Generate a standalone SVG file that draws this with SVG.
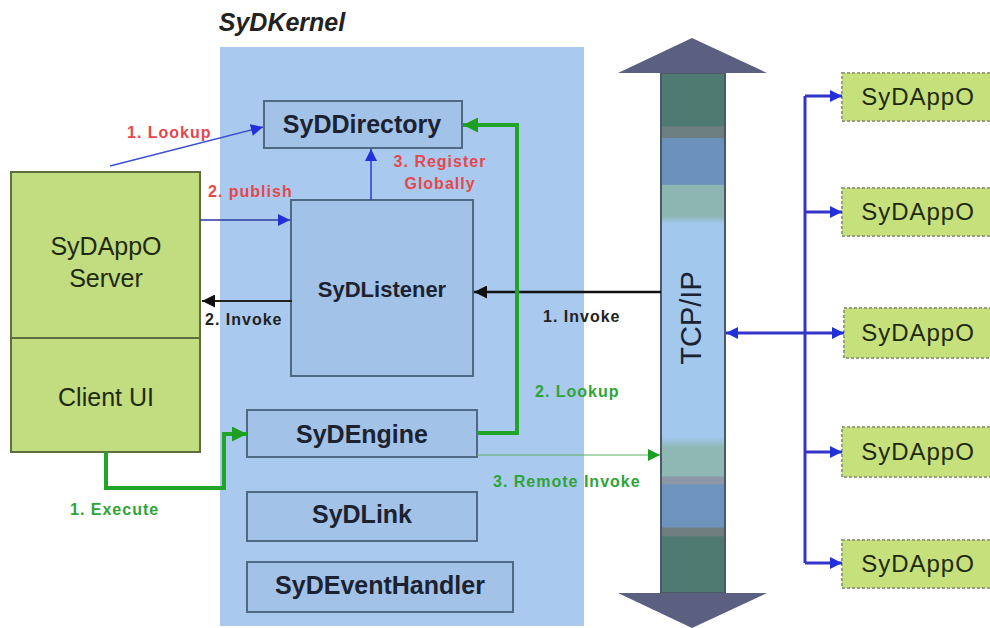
<svg xmlns="http://www.w3.org/2000/svg" width="990" height="628" viewBox="0 0 990 628">
  <defs>
    <style>
      .mod { fill: #a2c2e8; stroke: #4e6886; stroke-width: 2; }
      .modtxt { font-family: "Liberation Sans", Arial, sans-serif; font-weight: bold; fill: #1c2230; text-anchor: middle; }
      .app { fill: #c2dc80; stroke: #5e6e3e; stroke-width: 2; }
      .apptxt { font-family: "Liberation Sans", Arial, sans-serif; font-size: 25px; fill: #1e2a10; text-anchor: middle; }
      .peer { fill: #c6e07c; stroke: #9aa07e; stroke-width: 2; stroke-dasharray: 3 2; }
      .peertxt { font-family: "Liberation Sans", Arial, sans-serif; font-size: 24px; fill: #1e2a10; text-anchor: middle; letter-spacing: 1px; }
      .lbl { font-family: "Liberation Sans", Arial, sans-serif; font-size: 16px; font-weight: bold; letter-spacing: 1px; }
      .red { fill: #e4484c; }
      .grn { fill: #2ea436; }
      .blk { fill: #222; }
      .wire { fill: none; }
    </style>
    <marker id="ahBlue" viewBox="0 0 10 10" refX="10" refY="5" markerUnits="userSpaceOnUse" markerWidth="14" markerHeight="12" orient="auto-start-reverse">
      <path d="M0,0 L10,5 L0,10 Z" fill="#2230dc"/>
    </marker>
    <marker id="ahBlack" viewBox="0 0 10 10" refX="10" refY="5" markerUnits="userSpaceOnUse" markerWidth="16" markerHeight="13" orient="auto">
      <path d="M0,0 L10,5 L0,10 Z" fill="#111"/>
    </marker>
    <marker id="ahGreen" viewBox="0 0 10 10" refX="10" refY="5" markerUnits="userSpaceOnUse" markerWidth="18" markerHeight="15" orient="auto">
      <path d="M0,0 L10,5 L0,10 Z" fill="#1c9e22"/>
    </marker>
    <marker id="ahGreenSm" viewBox="0 0 10 10" refX="10" refY="5" markerUnits="userSpaceOnUse" markerWidth="16" markerHeight="12" orient="auto">
      <path d="M0,0 L10,5 L0,10 Z" fill="#1c9e22"/>
    </marker>
    <linearGradient id="shaft" gradientUnits="userSpaceOnUse" x1="0" y1="73" x2="0" y2="593">
      <stop offset="0" stop-color="#4e7a72"/>
      <stop offset="0.102" stop-color="#4e7a72"/>
      <stop offset="0.104" stop-color="#6e7f82"/>
      <stop offset="0.124" stop-color="#6e7f82"/>
      <stop offset="0.126" stop-color="#6a92ba"/>
      <stop offset="0.214" stop-color="#6a92ba"/>
      <stop offset="0.216" stop-color="#8db5b2"/>
      <stop offset="0.275" stop-color="#8db5b2"/>
      <stop offset="0.29" stop-color="#a2c8ee"/>
      <stop offset="0.70" stop-color="#a2c8ee"/>
      <stop offset="0.72" stop-color="#8fb8b4"/>
      <stop offset="0.775" stop-color="#8fb8b4"/>
      <stop offset="0.777" stop-color="#8c98a6"/>
      <stop offset="0.79" stop-color="#8c98a6"/>
      <stop offset="0.792" stop-color="#6c94bc"/>
      <stop offset="0.873" stop-color="#6c94bc"/>
      <stop offset="0.875" stop-color="#707e80"/>
      <stop offset="0.89" stop-color="#707e80"/>
      <stop offset="0.892" stop-color="#4e7a72"/>
      <stop offset="1" stop-color="#4e7a72"/>
    </linearGradient>
  </defs>

  <rect width="990" height="628" fill="#ffffff"/>

  <!-- kernel container -->
  <g id="kernel">
    <rect x="220" y="47" width="364" height="579" fill="#a9c9ee"/>
    <text x="282" y="31" font-family="Liberation Sans, Arial, sans-serif" font-size="25" font-weight="bold" font-style="italic" fill="#222" text-anchor="middle">SyDKernel</text>
  </g>

  <!-- TCP/IP bus -->
  <g id="tcpip">
    <rect x="661" y="73" width="64" height="520" fill="url(#shaft)" stroke="#4a5a6a" stroke-width="2"/>
    <polygon points="618,73 692,38 767,73" fill="#5b5f80"/>
    <polygon points="618,593 767,593 692,628" fill="#5b5f80"/>
    <text transform="translate(701,318) rotate(-90)" font-family="Liberation Sans, Arial, sans-serif" font-size="29" fill="#1c2230" text-anchor="middle">TCP/IP</text>
  </g>

  <g id="appServer">
    <rect class="app" x="11" y="172" width="189" height="280"/>
    <line x1="11" y1="338" x2="200" y2="338" stroke="#5e6e3e" stroke-width="2"/>
    <text class="apptxt" x="106" y="255">SyDAppO</text>
    <text class="apptxt" x="106" y="287">Server</text>
    <text class="apptxt" x="106" y="406">Client UI</text>
  </g>

  <g id="directory">
    <rect class="mod" x="264" y="101" width="198" height="47"/>
    <text class="modtxt" x="362" y="133" font-size="25">SyDDirectory</text>
  </g>
  <g id="listener">
    <rect class="mod" x="291" y="200" width="182" height="176"/>
    <text class="modtxt" x="382" y="297" font-size="22">SyDListener</text>
  </g>
  <g id="engine">
    <rect class="mod" x="247" y="410" width="230" height="47"/>
    <text class="modtxt" x="362" y="443" font-size="25">SyDEngine</text>
  </g>
  <g id="link">
    <rect class="mod" x="247" y="492" width="230" height="49"/>
    <text class="modtxt" x="362" y="523" font-size="25">SyDLink</text>
  </g>
  <g id="eventHandler">
    <rect class="mod" x="247" y="562" width="266" height="50"/>
    <text class="modtxt" x="380" y="594" font-size="25">SyDEventHandler</text>
  </g>

  <g id="peer1"><rect class="peer" x="842" y="73" width="150" height="48"/><text class="peertxt" x="918" y="105">SyDAppO</text></g>
  <g id="peer2"><rect class="peer" x="842" y="188" width="150" height="48"/><text class="peertxt" x="918" y="220">SyDAppO</text></g>
  <g id="peer3"><rect class="peer" x="844" y="308" width="150" height="50"/><text class="peertxt" x="918" y="341">SyDAppO</text></g>
  <g id="peer4"><rect class="peer" x="842" y="427" width="150" height="50"/><text class="peertxt" x="918" y="460">SyDAppO</text></g>
  <g id="peer5"><rect class="peer" x="842" y="540" width="150" height="48"/><text class="peertxt" x="918" y="572">SyDAppO</text></g>

  <!-- connectors -->
  <g id="connectors" class="wire">
    <!-- local lookup / publish / register -->
    <line x1="110" y1="166" x2="263" y2="127" stroke="#3b4fd0" stroke-width="1.5" marker-end="url(#ahBlue)"/>
    <line x1="200" y1="220" x2="290" y2="220" stroke="#2a3aa0" stroke-width="1.5" marker-end="url(#ahBlue)"/>
    <line x1="371" y1="200" x2="371" y2="149" stroke="#2a3ad0" stroke-width="1.5" marker-end="url(#ahBlue)"/>
    <!-- invocations -->
    <line x1="661" y1="292" x2="474" y2="292" stroke="#111" stroke-width="2.5" marker-end="url(#ahBlack)"/>
    <line x1="292" y1="301" x2="202" y2="301" stroke="#222" stroke-width="2" marker-end="url(#ahBlack)"/>
    <!-- execute and global lookup -->
    <polyline points="106,452 106,488 224,488 224,434 247,434" stroke="#22a428" stroke-width="4" marker-end="url(#ahGreen)"/>
    <polyline points="477,433 517,433 517,125 463,125" stroke="#22a428" stroke-width="4" marker-end="url(#ahGreen)"/>
    <line x1="477" y1="455" x2="660" y2="455" stroke="#5ab05a" stroke-width="1" marker-end="url(#ahGreenSm)"/>
    <!-- network fan-out -->
    <line x1="805" y1="96" x2="805" y2="563" stroke="#3434c8" stroke-width="3"/>
    <line x1="805" y1="96" x2="842" y2="96" stroke="#3434c8" stroke-width="3" marker-end="url(#ahBlue)"/>
    <line x1="805" y1="212" x2="842" y2="212" stroke="#3434c8" stroke-width="3" marker-end="url(#ahBlue)"/>
    <line x1="726" y1="333" x2="844" y2="333" stroke="#3434c8" stroke-width="3" marker-start="url(#ahBlue)" marker-end="url(#ahBlue)"/>
    <line x1="805" y1="452" x2="842" y2="452" stroke="#3434c8" stroke-width="3" marker-end="url(#ahBlue)"/>
    <line x1="805" y1="563" x2="842" y2="563" stroke="#3434c8" stroke-width="3" marker-end="url(#ahBlue)"/>
  </g>

  <!-- connector labels -->
  <g id="labels">
    <text class="lbl red" x="127" y="138">1. Lookup</text>
    <text class="lbl red" x="208" y="197">2. publish</text>
    <text class="lbl red" x="440" y="167" text-anchor="middle">3. Register</text>
    <text class="lbl red" x="440" y="189" text-anchor="middle">Globally</text>
    <text class="lbl blk" x="205" y="325">2. Invoke</text>
    <text class="lbl blk" x="543" y="322">1. Invoke</text>
    <text class="lbl grn" x="535" y="397">2. Lookup</text>
    <text class="lbl grn" x="493" y="487">3. Remote Invoke</text>
    <text class="lbl grn" x="70" y="515">1. Execute</text>
  </g>
</svg>
